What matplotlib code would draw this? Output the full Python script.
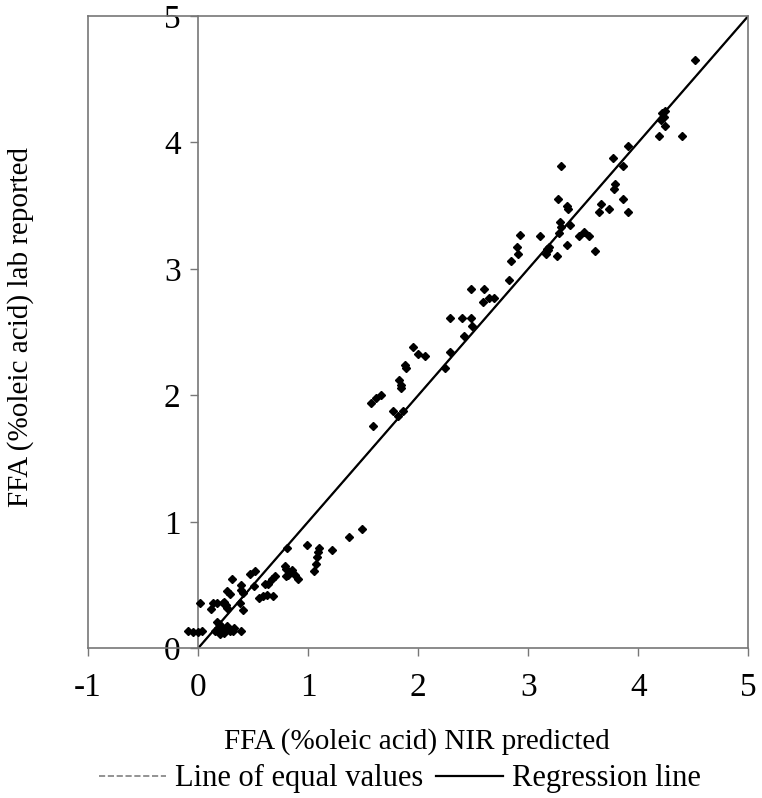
import matplotlib
matplotlib.use("Agg")
from matplotlib import pyplot as plt

plt.rcParams['font.family'] = ['Liberation Serif', 'DejaVu Serif']
plt.rcParams['axes.unicode_minus'] = False

# NIR predicted FFA (x) vs lab reported FFA (y), % oleic acid
nir_pred = [-0.09, -0.05, 0.00, 0.04, 0.02,
            0.12, 0.14, 0.17, 0.23,
            0.26, 0.29, 0.31,
            0.24, 0.25, 0.26,
            0.39, 0.39, 0.41, 0.38, 0.41,
            0.47, 0.52, 0.51,
            0.55, 0.59, 0.63, 0.68,
            0.61, 0.64, 0.67, 0.70, 0.80,
            0.17, 0.19, 0.21, 0.18, 0.20, 0.23, 0.26, 0.29, 0.26, 0.32,
            0.33, 0.39, 0.15, 0.20, 0.24,
            0.79, 0.81, 0.80, 0.82, 0.85, 0.88, 0.91, 0.99, 1.05, 1.07,
            1.08, 1.09, 1.10, 1.22, 1.37, 1.49,
            1.57, 1.59, 1.62, 1.66, 1.77, 1.82, 1.86, 1.83, 1.84, 1.84,
            1.88, 1.89, 1.95, 2.00, 2.06, 2.24, 2.29, 2.29, 2.40, 2.48,
            2.42, 2.49, 2.48, 2.60, 2.59, 2.64, 2.69, 2.83, 2.84, 2.91,
            2.90, 2.93,
            3.11, 3.16, 3.18, 3.17, 3.19, 3.26, 3.28, 3.30, 3.29, 3.27,
            3.30, 3.35, 3.35, 3.36, 3.38, 3.46, 3.51, 3.55, 3.61, 3.64,
            3.66, 3.73, 3.77, 3.78, 3.79, 3.86, 3.86, 3.91, 3.91, 4.19,
            4.21, 4.23, 4.22, 4.24, 4.24, 4.40, 4.52]
lab_rep = [0.14, 0.13, 0.13, 0.14, 0.36,
           0.31, 0.36, 0.36, 0.36,
           0.45, 0.43, 0.55,
           0.37, 0.34, 0.32,
           0.50, 0.46, 0.44, 0.36, 0.30,
           0.59, 0.61, 0.49,
           0.40, 0.41, 0.42, 0.41,
           0.51, 0.51, 0.55, 0.57, 0.57,
           0.21, 0.19, 0.18, 0.16, 0.13, 0.14, 0.15, 0.14, 0.18, 0.14,
           0.16, 0.14, 0.14, 0.11, 0.12,
           0.65, 0.79, 0.63, 0.58, 0.62, 0.58, 0.55, 0.82, 0.61, 0.67,
           0.72, 0.76, 0.79, 0.78, 0.88, 0.94,
           1.94, 1.76, 1.98, 2.00, 1.88, 1.84, 1.88, 2.12, 2.08, 2.06,
           2.24, 2.22, 2.38, 2.33, 2.31, 2.22, 2.34, 2.61, 2.61, 2.61,
           2.47, 2.55, 2.84, 2.84, 2.74, 2.77, 2.77, 2.91, 3.06, 3.12,
           3.17, 3.27,
           3.26, 3.12, 3.15, 3.16, 3.17, 3.10, 3.28, 3.33, 3.37, 3.55,
           3.81, 3.19, 3.50, 3.47, 3.35, 3.26, 3.29, 3.26, 3.14, 3.45,
           3.51, 3.47, 3.88, 3.63, 3.67, 3.81, 3.55, 3.45, 3.97, 4.05,
           4.18, 4.20, 4.23, 4.25, 4.13, 4.05, 4.65]

line_x = [0, 5]
equal_y = [0, 5]
regress_y = [0, 5]

x_ticks = [-1, 0, 1, 2, 3, 4, 5]
y_ticks = [0, 1, 2, 3, 4, 5]

fig = plt.figure(figsize=(7.62, 7.98), dpi=100)
ax = fig.add_axes([0.1155, 0.1876, 0.8665, 0.7924])

ax.plot(nir_pred, lab_rep, 'D', color='black', markersize=3.6, clip_on=False, zorder=3)
ax.plot(line_x, equal_y, '--', color='gray', linewidth=1.2, label='Line of equal values')
ax.plot(line_x, regress_y, '-', color='black', linewidth=1.6, label='Regression line')

ax.set_xlim(-1, 5)
ax.set_ylim(0, 5)
ax.set_xticks(x_ticks)
ax.set_yticks(y_ticks)

grey = '#777777'
for s in ax.spines.values():
    s.set_color(grey)
    s.set_linewidth(1.2)
ax.spines['left'].set_position(('data', 0))
# outer left border of the plot area
ax.axvline(-1, color=grey, linewidth=1.2, clip_on=False)

ax.tick_params(axis='x', direction='out', length=5.5, width=1.0, color=grey,
               labelsize=24, pad=12)
ax.tick_params(axis='y', direction='out', length=5.5, width=1.0, color=grey,
               labelsize=24, pad=7)

fig.text(0.547, 0.071, "FFA (%oleic acid) NIR predicted", fontsize=21,
         ha='center', va='center')
fig.text(0.027, 0.59, "FFA (%oleic acid) lab reported", fontsize=21,
         ha='center', va='center', rotation=90)

fig.legend(loc='center', bbox_to_anchor=(0.525, 0.024), ncol=2, frameon=False,
           fontsize=22, handlelength=2.2, handletextpad=0.3, columnspacing=0.4)

plt.savefig('out.png', dpi=100)
